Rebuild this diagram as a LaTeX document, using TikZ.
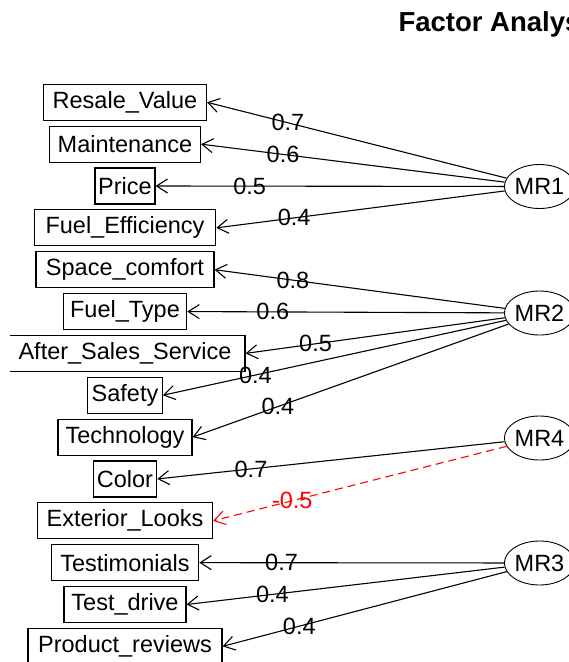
\documentclass[tikz,border=0pt]{standalone}
\usepackage{fontspec}
\setmainfont{Liberation Sans}
\usetikzlibrary{arrows.meta,shapes.geometric,positioning}

\begin{document}
\begin{tikzpicture}[x=1pt,y=-1pt,
  var/.style={draw,line width=1.1pt,inner sep=0pt,minimum height=36pt,font=\fontsize{23.5}{23.5}\selectfont},
  fac/.style={draw,ellipse,line width=0.9pt,inner sep=0pt,minimum width=57pt,minimum height=44pt,font=\fontsize{23.5}{23.5}\selectfont},
  ld/.style={-{Straight Barb[length=11pt,width=14pt]},line width=1.1pt},
  negld/.style={ld,red,dash pattern=on 8pt off 5pt},
  lbl/.style={pos=0.73,inner sep=0pt,font=\fontsize{23.5}{23.5}\selectfont}]
  \useasboundingbox (0,0) rectangle (569,662);

  %Draw title
  \node[anchor=base west,font=\bfseries\fontsize{27.5}{27.5}\selectfont] (title) at (395,31.7) {Factor Analys};

  %Draw observed variables
  \begin{scope}
  \clip (10,0) rectangle (569,662);
  \node[var,minimum width=163pt] (resale) at (125,102.3) {Resale\_Value};
  \node[var,minimum width=151pt,below=4.75pt of resale] (maint) {Maintenance};
  \node[var,minimum width=60pt,below=4.75pt of maint] (price) {Price};
  \node[var,minimum width=181.5pt,below=4.75pt of price] (fueleff) {Fuel\_Efficiency};
  \node[var,minimum width=178pt,below=4.75pt of fueleff] (space) {Space\_comfort};
  \node[var,minimum width=123.5pt,below=4.75pt of space] (fueltype) {Fuel\_Type};
  \node[var,minimum width=240pt,below=4.75pt of fueltype] (aftersales) {After\_Sales\_Service};
  \node[var,minimum width=74.5pt,below=4.75pt of aftersales] (safety) {Safety};
  \node[var,minimum width=134pt,below=4.75pt of safety] (tech) {Technology};
  \node[var,minimum width=63.4pt,below=4.75pt of tech] (color) {Color};
  \node[var,minimum width=175pt,below=4.75pt of color] (exterior) {Exterior\_Looks};
  \node[var,minimum width=147.5pt,below=4.75pt of exterior] (testim) {Testimonials};
  \node[var,minimum width=122pt,below=4.75pt of testim] (testdrive) {Test\_drive};
  \node[var,minimum width=194pt,below=4.75pt of testdrive] (reviews) {Product\_reviews};
  \end{scope}

  %Draw factors
  \node[fac] (mr1) at (539.5,186.5) {MR1};
  \node[fac] (mr2) at (539.5,313) {MR2};
  \node[fac] (mr4) at (539.5,438) {MR4};
  \node[fac] (mr3) at (539.5,563) {MR3};

  %Draw loadings of MR1
  \draw[ld] (mr1) -- node[lbl]{0.7} (resale.east);
  \draw[ld] (mr1) -- node[lbl]{0.6} (maint.east);
  \draw[ld] (mr1) -- node[lbl]{0.5} (price.east);
  \draw[ld] (mr1) -- node[lbl]{0.4} (fueleff.east);

  %Draw loadings of MR2
  \draw[ld] (mr2) -- node[lbl]{0.8} (space.east);
  \draw[ld] (mr2) -- node[lbl]{0.6} (fueltype.east);
  \draw[ld] (mr2) -- node[lbl]{0.5} (aftersales.east);
  \draw[ld] (mr2) -- node[lbl]{0.4} (safety.east);
  \draw[ld] (mr2) -- node[lbl]{0.4} (tech.east);

  %Draw loadings of MR4
  \draw[ld] (mr4) -- node[lbl]{0.7} (color.east);
  \draw[negld] (mr4) -- node[lbl]{-0.5} (exterior.east);

  %Draw loadings of MR3
  \draw[ld] (mr3) -- node[lbl]{0.7} (testim.east);
  \draw[ld] (mr3) -- node[lbl]{0.4} (testdrive.east);
  \draw[ld] (mr3) -- node[lbl]{0.4} (reviews.east);
\end{tikzpicture}
\end{document}
